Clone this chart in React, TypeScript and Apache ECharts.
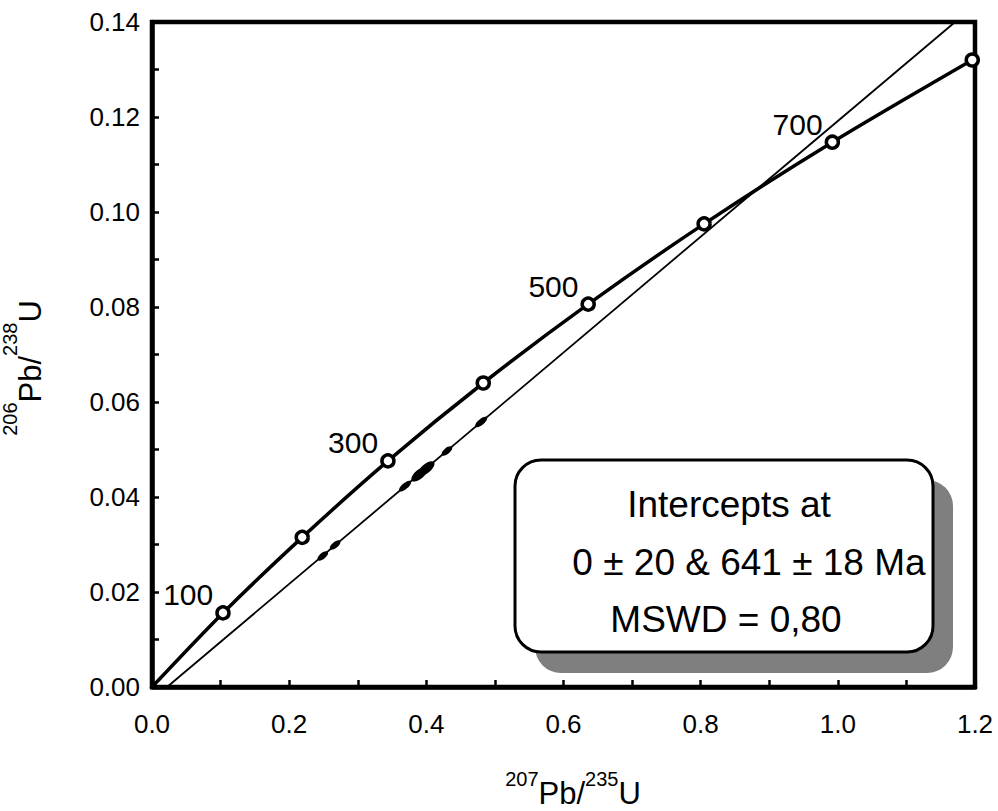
import { useEffect, useRef } from 'react';
import * as echarts from 'echarts';

// Concordia reference points (ages in Ma)
const concordiaAges = [100, 200, 300, 400, 500, 600, 700, 800];
const concordiaX = [0.1035, 0.219, 0.344, 0.483, 0.636, 0.805, 0.992, 1.196];
const concordiaY = [0.0156, 0.0315, 0.0476, 0.064, 0.0806, 0.0975, 0.1147, 0.132];
const labeledAges = [100, 300, 500, 700];

// Discordia line end points
const discordiaX = [0.022, 1.171];
const discordiaY = [0, 0.14];

// Analysed samples (error ellipses)
const sampleX = [0.249, 0.267, 0.369, 0.39, 0.4, 0.43, 0.48];
const sampleY = [0.0276, 0.0299, 0.0423, 0.0448, 0.046, 0.0497, 0.0558];
const sampleLen = [13, 13, 15, 20, 20, 13, 15];

// Axis tick labels
const xTicks = ['0.0', '0.2', '0.4', '0.6', '0.8', '1.0', '1.2'];
const yTicks = ['0.00', '0.02', '0.04', '0.06', '0.08', '0.10', '0.12', '0.14'];

const FONT = 'Liberation Sans, Arial, sans-serif';

export default function App() {
  const ref = useRef<HTMLDivElement>(null);
  useEffect(() => {
    if (!ref.current) return;
    const chart = echarts.init(ref.current, undefined, { renderer: 'svg' });

    const concordiaLine = [[0, 0], ...concordiaX.map((x, i) => [x, concordiaY[i]])];
    const concordiaPts = concordiaX.map((x, i) => {
      const age = concordiaAges[i];
      return {
        value: [x, concordiaY[i]],
        label: {
          show: labeledAges.includes(age),
          formatter: String(age),
          position: 'left',
          distance: 2,
          offset: [0, -18],
          fontSize: 30,
          color: '#000',
          opacity: 1,
          fontFamily: FONT,
        },
      };
    });
    const samples = sampleX.map((x, i) => ({
      value: [x, sampleY[i]],
      symbolSize: [sampleLen[i], sampleLen[i] > 16 ? 9 : 6],
    }));

    const richY = {
      main: { fontSize: 31, lineHeight: 46, verticalAlign: 'bottom', fontFamily: FONT, color: '#000' },
      sup: { fontSize: 20, lineHeight: 20, verticalAlign: 'top', fontFamily: FONT, color: '#000' },
    };
    const richX = {
      main: { fontSize: 31, lineHeight: 40, verticalAlign: 'bottom', fontFamily: FONT, color: '#000' },
      sup: { fontSize: 20, lineHeight: 20, verticalAlign: 'top', fontFamily: FONT, color: '#000' },
    };

    chart.setOption({
      animation: false,
      backgroundColor: '#fff',
      grid: {
        left: 152,
        right: 23,
        top: 22,
        bottom: 124,
        show: true,
        borderColor: '#000',
        borderWidth: 4.5,
      },
      xAxis: {
        type: 'value',
        min: 0,
        max: 1.2,
        interval: 0.1,
        axisLine: { show: true, lineStyle: { color: '#000', width: 4.5 } },
        axisTick: { show: true, inside: true, length: 7, lineStyle: { color: '#000', width: 2.5 } },
        axisLabel: {
          margin: 24,
          fontSize: 26,
          color: '#000',
          fontFamily: FONT,
          formatter: (v: number) => {
            const k = Math.round(v * 10);
            return k % 2 === 0 ? xTicks[k / 2] : '';
          },
        },
        splitLine: { show: false },
      },
      yAxis: {
        type: 'value',
        min: 0,
        max: 0.14,
        interval: 0.01,
        axisLine: { show: true, lineStyle: { color: '#000', width: 4.5 } },
        axisTick: { show: true, inside: true, length: 7, lineStyle: { color: '#000', width: 2.5 } },
        axisLabel: {
          margin: 12,
          fontSize: 26,
          color: '#000',
          fontFamily: FONT,
          formatter: (v: number) => {
            const k = Math.round(v * 100);
            return k % 2 === 0 ? yTicks[k / 2] : '';
          },
        },
        splitLine: { show: false },
      },
      series: [
        {
          type: 'line',
          data: [[discordiaX[0], discordiaY[0]], [discordiaX[1], discordiaY[1]]],
          symbol: 'none',
          lineStyle: { color: '#000', width: 1.8 },
          z: 2,
        },
        {
          type: 'line',
          data: concordiaLine,
          smooth: 0.3,
          symbol: 'none',
          lineStyle: { color: '#000', width: 3.5 },
          z: 3,
        },
        {
          type: 'scatter',
          data: samples,
          symbol: 'circle',
          symbolRotate: 40,
          itemStyle: { color: '#000', opacity: 1 },
          z: 4,
        },
        {
          type: 'scatter',
          data: concordiaPts,
          symbol: 'circle',
          symbolSize: 12,
          itemStyle: { color: '#fff', borderColor: '#000', borderWidth: 3.5, opacity: 1 },
          z: 5,
        },
      ],
      graphic: [
        {
          type: 'rect',
          z: 100,
          shape: { x: 535, y: 480, width: 418, height: 193, r: 26 },
          style: { fill: '#7f7f7f' },
        },
        {
          type: 'rect',
          z: 101,
          shape: { x: 515, y: 460, width: 418, height: 192, r: 26 },
          style: { fill: '#fff', stroke: '#000', lineWidth: 3 },
        },
        {
          type: 'text',
          z: 102,
          x: 729,
          y: 504,
          style: { text: 'Intercepts at', fontSize: 37, fontFamily: FONT, fill: '#000', align: 'center', verticalAlign: 'middle' },
        },
        {
          type: 'text',
          z: 102,
          x: 749,
          y: 562,
          style: { text: '0 ± 20 & 641 ± 18 Ma', fontSize: 37, fontFamily: FONT, fill: '#000', align: 'center', verticalAlign: 'middle' },
        },
        {
          type: 'text',
          z: 102,
          x: 726,
          y: 619,
          style: { text: 'MSWD = 0,80', fontSize: 37, fontFamily: FONT, fill: '#000', align: 'center', verticalAlign: 'middle' },
        },
        {
          type: 'text',
          z: 102,
          x: 573,
          y: 769,
          style: {
            text: '{sup|207}{main|Pb/}{sup|235}{main|U}',
            align: 'center',
            verticalAlign: 'top',
            rich: richX,
          },
        },
        {
          type: 'text',
          z: 102,
          x: 0,
          y: 368,
          rotation: Math.PI / 2,
          style: {
            text: '{sup|206}{main|Pb/}{sup|238}{main|U}',
            align: 'center',
            verticalAlign: 'top',
            rich: richY,
          },
        },
      ],
    });
    return () => chart.dispose();
  }, []);
  return (
    <div
      ref={ref}
      style={{ position: 'fixed', left: 0, top: 0, width: 998, height: 811, background: '#fff' }}
    />
  );
}
